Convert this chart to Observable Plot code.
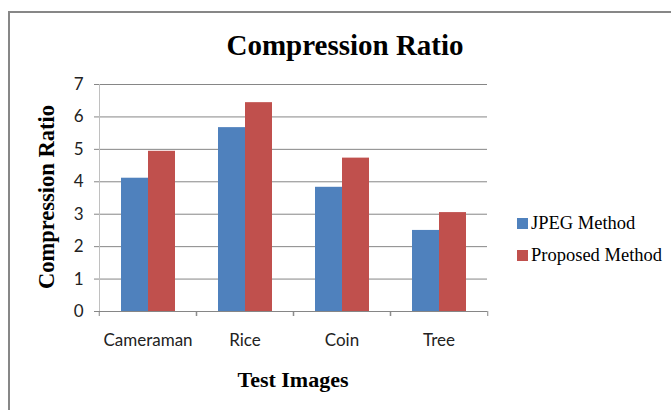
<!DOCTYPE html>
<html>
<head>
<meta charset="utf-8">
<script src="https://cdn.jsdelivr.net/npm/d3@7"></script>
<script src="https://cdn.jsdelivr.net/npm/@observablehq/plot@0.6"></script>
<style>
  html, body { margin: 0; padding: 0; background: #fff; }
  #wrap { position: relative; width: 671px; height: 410px; overflow: hidden; background: #fff; }
  #border { position: absolute; left: 8px; top: 11px; width: 720px; height: 440px; border: 2px solid #878787; box-sizing: border-box; }
  #chart { position: absolute; left: 0; top: 0; }
  .serif { font-family: "Liberation Serif", "Times New Roman", serif; color: #000; position: absolute; white-space: nowrap; line-height: 1; }
  #title { left: 145px; width: 400px; text-align: center; top: 31px; font-size: 29px; font-weight: bold; }
  #xtitle { left: 193px; width: 200px; text-align: center; top: 369px; font-size: 22px; font-weight: bold; }
  #ytitle { left: 47px; top: 197px; font-size: 22.5px; font-weight: bold; transform: translate(-50%, -50%) rotate(-90deg); }
  .leg { position: absolute; left: 517px; font-family: "Liberation Serif", "Times New Roman", serif; font-size: 18.5px; line-height: 1; white-space: nowrap; display: flex; align-items: center; }
  .sw { width: 11px; height: 11px; display: inline-block; margin-right: 3px; }
</style>
</head>
<body>
<div id="wrap">
  <div id="border"></div>
  <div id="chart"></div>
  <div id="title" class="serif">Compression Ratio</div>
  <div id="xtitle" class="serif">Test Images</div>
  <div id="ytitle" class="serif">Compression Ratio</div>
  <div id="legend"></div>
</div>
<script>
const categories = ["Cameraman", "Rice", "Coin", "Tree"];
const series = ["JPEG Method", "Proposed Method"];
const jpegValues = [4.11, 5.67, 3.83, 2.50];
const proposedValues = [4.94, 6.44, 4.73, 3.05];
const yTicks = [0, 1, 2, 3, 4, 5, 6, 7];
const colors = ["#4F81BD", "#C0504D"];

const data = categories.flatMap((c, i) => [
  {image: c, method: series[0], value: jpegValues[i]},
  {image: c, method: series[1], value: proposedValues[i]}
]);

const W = 671, H = 410, ML = 98, MR = 183, MT = 84, MB = 99;
const bandW = (W - ML - MR) / categories.length;
const tickFont = "Lato, 'Open Sans', sans-serif";

const chart = Plot.plot({
  width: W, height: H,
  marginLeft: ML, marginRight: MR, marginTop: MT, marginBottom: MB,
  style: {background: "transparent", fontFamily: tickFont, color: "#000"},
  fx: {domain: categories, padding: 0, axis: null},
  x: {domain: series, axis: null, paddingInner: 0, paddingOuter: 0.77, align: 0.52},
  y: {domain: [0, 7], axis: null},
  color: {domain: series, range: colors},
  marks: [
    Plot.gridY({ticks: yTicks, stroke: "#868686", strokeOpacity: 1}),
    Plot.axisY({ticks: yTicks, tickFormat: d => String(d), tickSize: 5, tickPadding: 11, stroke: "#868686", fill: "#222", fontSize: 17, label: null}),
    Plot.frame({anchor: "left", facetAnchor: "left", stroke: "#C0C0C0"}),
    Plot.barY(data, {fx: "image", x: "method", y: "value", fill: "method"}),
    Plot.ruleY([0], {stroke: "#868686"}),
    Plot.axisFx({anchor: "bottom", tickSize: 0, tickPadding: 22, fontSize: 17, fill: "#222", label: null}),
    Plot.axisFx({anchor: "bottom", tickSize: 5, tickFormat: null, stroke: "#868686", dx: -bandW / 2, label: null}),
    Plot.axisFx({anchor: "bottom", tickSize: 5, tickFormat: null, stroke: "#868686", dx: bandW / 2, label: null})
  ]
});
document.getElementById("chart").appendChild(chart);

const legend = document.getElementById("legend");
series.forEach((s, i) => {
  const item = document.createElement("div");
  item.className = "leg";
  item.style.top = (214 + i * 32) + "px";
  const sw = document.createElement("span");
  sw.className = "sw";
  sw.style.background = colors[i];
  item.appendChild(sw);
  item.appendChild(document.createTextNode(s));
  legend.appendChild(item);
});
</script>
</body>
</html>
